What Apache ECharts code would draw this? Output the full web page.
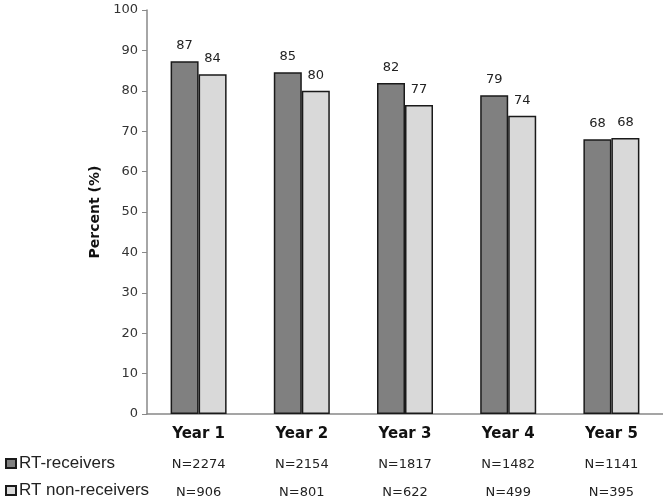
<!DOCTYPE html>
<html>
<head>
<meta charset="utf-8">
<script src="https://cdn.jsdelivr.net/npm/echarts@6/dist/echarts.min.js"></script>
<style>html,body{margin:0;padding:0;background:#fff}#c{width:663px;height:504px}</style>
</head>
<body>
<div id="c"></div>
<script>
var categories = ['Year 1', 'Year 2', 'Year 3', 'Year 4', 'Year 5'];
var seriesNames = ['RT-receivers', 'RT non-receivers'];
var receivers = [87.3, 84.6, 81.9, 78.9, 68.0];
var nonReceivers = [84.1, 80.0, 76.5, 73.8, 68.3];
var receiverLabels = [87, 85, 82, 79, 68];
var nonReceiverLabels = [84, 80, 77, 74, 68];
var receiverN = ['N=2274', 'N=2154', 'N=1817', 'N=1482', 'N=1141'];
var nonReceiverN = ['N=906', 'N=801', 'N=622', 'N=499', 'N=395'];
var yTicks = [0, 10, 20, 30, 40, 50, 60, 70, 80, 90, 100];

var chart = echarts.init(document.getElementById('c'));
function labelFor(arr) {
  return function (p) { return String(arr[p.dataIndex]); };
}
var legendCommon = {
  orient: 'horizontal', left: 5, padding: 0,
  itemWidth: 10, itemHeight: 9, icon: 'rect', itemGap: 2,
  textStyle: { fontFamily: 'Liberation Sans, Arial', fontSize: 17, color: '#222', padding: [0, 0, 0, -2] }
};
chart.setOption({
  animation: false,
  backgroundColor: '#ffffff',
  grid: { left: 147, right: 0, top: 10, bottom: 90 },
  legend: [
    Object.assign({}, legendCommon, { top: 455, data: [seriesNames[0]] }),
    Object.assign({}, legendCommon, { top: 482, data: [seriesNames[1]] })
  ],
  xAxis: [
    {
      type: 'category', data: categories, position: 'bottom',
      axisLine: { lineStyle: { color: '#888', width: 1.5 } },
      axisTick: { show: false },
      axisLabel: { fontFamily: 'DejaVu Sans', fontWeight: 'bold', fontSize: 15, color: '#111', margin: 13 }
    },
    {
      type: 'category', data: receiverN, position: 'bottom', offset: 44,
      axisLine: { show: false }, axisTick: { show: false },
      axisLabel: { fontFamily: 'DejaVu Sans', fontSize: 13, color: '#222', margin: 0 }
    },
    {
      type: 'category', data: nonReceiverN, position: 'bottom', offset: 72,
      axisLine: { show: false }, axisTick: { show: false },
      axisLabel: { fontFamily: 'DejaVu Sans', fontSize: 13, color: '#222', margin: 0 }
    }
  ],
  yAxis: {
    type: 'value', min: yTicks[0], max: yTicks[yTicks.length - 1], interval: 10,
    name: 'Percent (%)', nameLocation: 'middle', nameGap: 44, nameRotate: 90,
    nameTextStyle: { fontFamily: 'DejaVu Sans', fontWeight: 'bold', fontSize: 14, color: '#111' },
    axisLine: { show: true, lineStyle: { color: '#888', width: 1.5 } },
    axisTick: { show: true, length: 5, lineStyle: { color: '#888' } },
    axisLabel: { fontFamily: 'DejaVu Sans', fontSize: 13, color: '#333', margin: 9 },
    splitLine: { show: false }
  },
  series: [
    {
      name: seriesNames[0], type: 'bar', data: receivers, xAxisIndex: 0,
      barWidth: 28, barGap: '0%',
      itemStyle: { color: '#808080', borderColor: '#1a1a1a', borderWidth: 1.5 },
      label: { show: true, position: 'top', distance: 9, formatter: labelFor(receiverLabels),
        fontFamily: 'DejaVu Sans', fontSize: 13, color: '#222' }
    },
    {
      name: seriesNames[1], type: 'bar', data: nonReceivers, xAxisIndex: 0,
      barWidth: 28, barGap: '0%',
      itemStyle: { color: '#d9d9d9', borderColor: '#1a1a1a', borderWidth: 1.5 },
      label: { show: true, position: 'top', distance: 9, formatter: labelFor(nonReceiverLabels),
        fontFamily: 'DejaVu Sans', fontSize: 13, color: '#222' }
    }
  ]
});
</script>
</body>
</html>
